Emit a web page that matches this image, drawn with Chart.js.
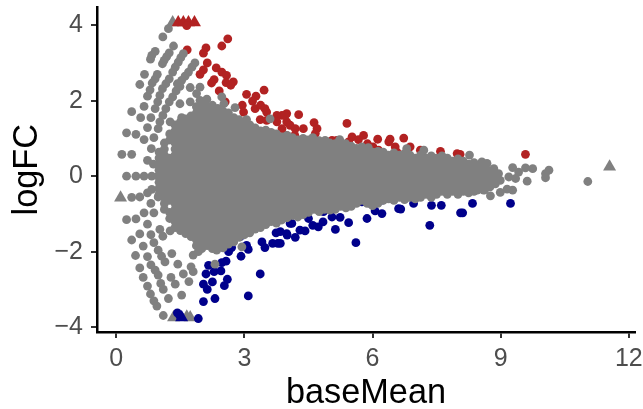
<!DOCTYPE html>
<html><head><meta charset="utf-8">
<style>html,body{margin:0;padding:0;background:#fff}canvas{display:block}</style>
<script src="https://cdn.jsdelivr.net/npm/chart.js@4"></script>
</head><body><canvas id="c" width="643" height="409"></canvas>
<script>
const xTicks=[0,3,6,9,12];
const yTicks=[-4,-2,0,2,4];
const grayTriangles=[[.1,-.57],[1.34,-3.74],[1.65,-3.72],[1.73,-3.74],[1.32,4.07],[11.55,.25]];
const redTriangles=[[1.45,4.07],[1.57,4.07],[1.69,4.07],[1.83,4.07]];
const blueTriangles=[[1.53,-3.74]];
const redPoints=[[1.65,3.99],[2.61,3.64],[2.47,3.45],[2.1,3.4],[2.04,3.26],[1.66,3.35],[2.13,3],[2.34,2.87],[2.47,2.76],[2.58,2.67],[2.04,2.82],[1.96,2.7],[2.29,2.56],[2.23,2.47],[2.74,2.5],[2.57,2.48],[2.68,2.41],[2.41,2.26],[3.46,2.28],[3.05,2.17],[3.27,2.12],[3.19,1.99],[2.55,1.97],[2.95,1.88],[3.25,1.79],[3.38,1.88],[3.48,1.79],[3.52,1.7],[2.98,1.7],[2.76,1.48],[3.37,1.5],[3.76,1.61],[3.88,1.61],[3.99,1.66],[3.76,1.44],[3.99,1.44],[3.88,1.26],[3.52,1.48],[4.27,1.63],[3.95,1.61],[4.63,1.42],[5.4,1.4],[4.7,1.26],[6.73,1.01],[4.07,1.35],[4.19,1.26],[4.38,1.26],[4.66,1.13],[5.52,1.04],[5.79,1.08],[5.67,.97],[6.12,.98],[6.41,.98],[6.38,.91],[5.05,.95],[5.16,.95],[4.93,.82],[5.05,.82],[5.44,.91],[5.88,.86],[6.01,.78],[6.14,.69],[6.53,.78],[6.57,.64],[6.76,.6],[6.88,.78],[7.12,.69],[7.59,.66],[3.98,1.08],[4.18,1.08],[7.98,.6],[8.05,.58],[9.58,.58]];
const bluePoints=[[1.43,-3.62],[1.49,-3.7],[1.92,-3.77],[2.04,-3.32],[2.31,-3.24],[3.09,-3.17],[3.37,-2.59],[2.13,-3],[2.04,-2.86],[2.25,-2.8],[2.53,-2.9],[2.6,-2.73],[2.1,-2.59],[2.29,-2.53],[2.45,-2.51],[2.16,-2.36],[2.57,-2.25],[2.47,-2.29],[2.92,-2.12],[2.63,-2],[2.7,-1.89],[3.09,-1.94],[3.05,-1.83],[3.48,-1.89],[3.41,-1.74],[3.66,-1.78],[3.78,-1.78],[3.74,-1.5],[3.84,-1.47],[3.99,-1.52],[4.07,-1.25],[2.9,-1.6],[5.61,-1.76],[5.13,-1.41],[3.84,-1.78],[4.19,-1.62],[4,-1.56],[4.42,-1.45],[4.11,-1.25],[4.73,-1.34],[4.84,-1.21],[5.05,-1.08],[5.44,-1.23],[5.24,-1.09],[5.87,-1.12],[7.34,-1.3],[6.22,-.99],[6.06,-.92],[6.24,-.63],[6.61,-.86],[6.66,-.87],[5.75,-.68],[5.95,-.72],[6.96,-.72],[7.38,-.77],[7.61,-.77],[8.06,-.97],[4.3,-1.43],[4.5,-1.12],[4.85,-.94],[4.6,-1.3],[8.34,-.72],[8.11,-.97],[9.23,-.72]];
const grayPoints=[[1.22,3.91],[1.09,3.69],[1.34,3.45],[.91,3.31],[.83,3.2],[.8,3.1],[1.24,3.27],[1.18,3.17],[1.12,3.07],[1.08,2.98],[1.57,3.25],[1.51,3.14],[1.45,3.02],[1.38,2.89],[1.32,2.76],[1.84,3],[1.77,2.89],[1.69,2.76],[1.61,2.65],[1.53,2.54],[1.43,2.45],[.66,2.7],[.55,2.43],[.96,2.7],[.91,2.58],[.84,2.47],[.79,2.29],[.73,2.12],[1.24,2.58],[1.16,2.45],[1.08,2.32],[1.02,2.14],[.97,1.97],[.91,1.79],[1.49,2.38],[1.4,2.26],[1.32,2.1],[1.24,1.97],[1.16,1.79],[1.09,1.61],[1.02,1.44],[.98,1.26],[.65,1.85],[.36,1.71],[.57,1.55],[.81,1.55],[.73,1.29],[.24,1.15],[.46,1.11],[.65,.97],[.88,1.02],[.82,.73],[.13,.58],[.36,.58],[.73,.42],[.87,.32],[1.96,2.36],[1.88,2.19],[1.73,2.35],[1.73,1.97],[1.49,1.92],[2.47,2.1],[2.12,2.04],[1.96,2.01],[2.78,1.82],[1.26,1.44],[1.53,1.55],[3.6,1.52],
[.24,0],[.46,0],[.65,0],[.83,0],[.98,0],[.36,-.56],[.55,-.55],[.73,-.44],[.83,-.35],[.98,-.55],[.81,-.72],[.88,-.97],[.65,-.97],[.24,-1.15],[.46,-1.13],[.73,-1.27],[.55,-1.53],[.81,-1.55],[1.02,-1.41],[1.09,-1.59],[1.26,-1.45],[.36,-1.69],[.63,-1.85],[.88,-1.76],[.45,-2.1],[.73,-2.13],[.98,-1.96],[1.06,-2.12],[1.14,-2.27],[.81,-2.35],[.91,-2.49],[.55,-2.43],[.63,-2.68],[.98,-2.62],[1.04,-2.84],[1.1,-3],[.73,-2.91],[.8,-3.12],[.88,-3.3],[.95,-3.44],[1.22,-3.24],[1.1,-3.69],[1.53,-3.15],[1.28,-2.68],[1.38,-2.86],[1.7,-2.79],[1.57,-2.59],[1.44,-2.33],[1.75,-2.4],[1.8,-2.53],[1.3,-2.05],[2.31,-2.33],[1.92,-2],[2.35,-1.96],[2.94,-1.87],[1.8,-2.09],
[11.04,-.14],[10.05,-.04],[10.05,.07],[10.13,.16],[9.62,-.13],[9.58,.22],[9.75,.2],[9.28,.23],[9.42,.11],[9.35,-.06],[9.19,-.02],[8.99,-.11],[9.28,-.37],[9.15,-.34],[8.99,-.43],[8.76,-.52],[8.27,.56],[8.56,.38],[8.68,.34],[8.84,.2],[8.95,.07],[8.6,-.37],[8.45,-.37],[7.2,.69],[6.8,.73],[4.89,.95],[5.23,.97],[2.52,1.92],[3.05,1.5],[4.6,1.02],[5.9,.76]];
const denseColumns=[
[1,-.48,-.32,-.16,0,.16,.32,.48,.64],
[1.125,-.88,-.72,-.56,-.4,-.24,-.08,.08,.24,.4,.56,.72,.88],
[1.25,-1.12,-.96,-.64,-.48,-.32,-.16,0,.16,.32,.48,.96,1.12],
[1.375,-1.36,-1.2,-1.04,-.88,-.72,-.56,-.4,-.24,-.08,.08,.24,.4,.56,.72,.88,1.04,1.2,1.36],
[1.5,-1.44,-1.28,-1.12,-.96,-.8,-.64,-.48,-.32,-.16,0,.16,.32,.48,.64,.8,.96,1.12,1.28,1.44],
[1.625,-1.52,-1.36,-1.2,-1.04,-.88,-.72,-.56,-.4,-.24,-.08,.08,.24,.4,.56,.72,.88,1.04,1.2,1.36,1.52],
[1.75,-1.6,-1.44,-1.28,-1.12,-.96,-.8,-.64,-.48,-.32,-.16,0,.16,.32,.48,.64,.8,.96,1.12,1.28,1.44,1.6],
[1.875,-1.84,-1.68,-1.52,-1.36,-1.2,-1.04,-.88,-.72,-.56,-.4,-.24,-.08,.08,.24,.4,.56,.72,.88,1.04,1.2,1.36,1.52,1.68,1.84],
[2,-1.92,-1.76,-1.6,-1.44,-1.28,-1.12,-.96,-.8,-.64,-.48,-.32,-.16,0,.16,.32,.48,.64,.8,.96,1.12,1.28,1.44,1.6,1.76,1.9],
[2.125,-1.84,-1.68,-1.52,-1.36,-1.2,-1.04,-.88,-.72,-.56,-.4,-.24,-.08,.08,.24,.4,.56,.72,.88,1.04,1.2,1.36,1.52,1.68,1.84],
[2.25,-1.92,-1.76,-1.6,-1.44,-1.28,-1.12,-.96,-.8,-.64,-.48,-.32,-.16,0,.16,.32,.48,.64,.8,.96,1.12,1.28,1.44,1.6,1.76,1.88],
[2.375,-1.84,-1.68,-1.52,-1.36,-1.2,-1.04,-.88,-.72,-.56,-.4,-.24,-.08,.08,.24,.4,.56,.72,.88,1.04,1.2,1.36,1.52,1.68,1.8],
[2.5,-1.9,-1.76,-1.6,-1.44,-1.28,-1.12,-.96,-.8,-.64,-.48,-.32,-.16,0,.16,.32,.48,.64,.8,.96,1.12,1.28,1.44,1.6,1.72],
[2.625,-1.8,-1.68,-1.52,-1.36,-1.2,-1.04,-.88,-.72,-.56,-.4,-.24,-.08,.08,.24,.4,.56,.72,.88,1.04,1.2,1.36,1.52,1.68],
[2.75,-1.74,-1.6,-1.44,-1.28,-1.12,-.96,-.8,-.64,-.48,-.32,-.16,0,.16,.32,.48,.64,.8,.96,1.12,1.28,1.44,1.55],
[2.875,-1.62,-1.52,-1.36,-1.2,-1.04,-.88,-.72,-.56,-.4,-.24,-.08,.08,.24,.4,.56,.72,.88,1.04,1.2,1.36,1.5],
[3,-1.55,-1.44,-1.28,-1.12,-.96,-.8,-.64,-.48,-.32,-.16,0,.16,.32,.48,.64,.8,.96,1.12,1.28,1.4],
[3.125,-1.5,-1.36,-1.2,-1.04,-.88,-.72,-.56,-.4,-.24,-.08,.08,.24,.4,.56,.72,.88,1.04,1.2,1.36],
[3.25,-1.4,-1.28,-1.12,-.96,-.8,-.64,-.48,-.32,-.16,0,.16,.32,.48,.64,.8,.96,1.12,1.28],
[3.375,-1.36,-1.2,-1.04,-.88,-.72,-.56,-.4,-.24,-.08,.08,.24,.4,.56,.72,.88,1.04,1.2],
[3.5,-1.28,-1.12,-.96,-.8,-.64,-.48,-.32,-.16,0,.16,.32,.48,.64,.8,.96,1.12,1.22],
[3.625,-1.2,-1.04,-.88,-.72,-.56,-.4,-.24,-.08,.08,.24,.4,.56,.72,.88,1.04,1.16],
[3.75,-1.24,-1.12,-.96,-.8,-.64,-.48,-.32,-.16,0,.16,.32,.48,.64,.8,.96,1.12],
[3.875,-1.16,-1.04,-.88,-.72,-.56,-.4,-.24,-.08,.08,.24,.4,.56,.72,.88,1.04],
[4,-1.1,-.96,-.8,-.64,-.48,-.32,-.16,0,.16,.32,.48,.64,.8,.96,1.08],
[4.125,-1.04,-.88,-.72,-.56,-.4,-.24,-.08,.08,.24,.4,.56,.72,.88,1.02],
[4.25,-1.08,-.96,-.8,-.64,-.48,-.32,-.16,0,.16,.32,.48,.64,.8,.96],
[4.375,-1.02,-.88,-.72,-.56,-.4,-.24,-.08,.08,.24,.4,.56,.72,.88,1],
[4.5,-.96,-.8,-.64,-.48,-.32,-.16,0,.16,.32,.48,.64,.8,.96],
[4.625,-.88,-.72,-.56,-.4,-.24,-.08,.08,.24,.4,.56,.72,.88],
[4.75,-.94,-.8,-.64,-.48,-.32,-.16,0,.16,.32,.48,.64,.8,.94],
[4.875,-.88,-.72,-.56,-.4,-.24,-.08,.08,.24,.4,.56,.72,.88],
[5,-.9,-.8,-.64,-.48,-.32,-.16,0,.16,.32,.48,.64,.8,.88],
[5.125,-.88,-.72,-.56,-.4,-.24,-.08,.08,.24,.4,.56,.72,.86],
[5.25,-.8,-.64,-.48,-.32,-.16,0,.16,.32,.48,.64,.8],
[5.375,-.84,-.72,-.56,-.4,-.24,-.08,.08,.24,.4,.56,.72,.86],
[5.5,-.8,-.64,-.48,-.32,-.16,0,.16,.32,.48,.64,.8],
[5.625,-.72,-.56,-.4,-.24,-.08,.08,.24,.4,.56,.74],
[5.75,-.64,-.48,-.32,-.16,0,.16,.32,.48,.64,.78],
[5.875,-.72,-.56,-.4,-.24,-.08,.08,.24,.4,.56,.72],
[6,-.78,-.64,-.48,-.32,-.16,0,.16,.32,.48,.64],
[6.125,-.72,-.56,-.4,-.24,-.08,.08,.24,.4,.56,.66],
[6.25,-.64,-.48,-.32,-.16,0,.16,.32,.48,.64],
[6.375,-.6,-.4,-.24,-.08,.08,.24,.4,.56],
[6.5,-.64,-.48,-.32,-.16,0,.16,.32,.48,.62],
[6.625,-.56,-.4,-.24,-.08,.08,.24,.4,.56],
[6.75,-.62,-.48,-.32,-.16,0,.16,.32,.48,.6],
[6.875,-.56,-.4,-.24,-.08,.08,.24,.4,.56],
[7,-.6,-.48,-.32,-.16,0,.16,.32,.48],
[7.125,-.56,-.4,-.24,-.08,.08,.24,.4,.56],
[7.25,-.48,-.32,-.16,0,.16,.32,.48],
[7.375,-.56,-.4,-.24,-.08,.08,.24,.4,.54],
[7.5,-.48,-.32,-.16,0,.16,.32,.48],
[7.625,-.4,-.24,-.08,.08,.24,.4,.54],
[7.75,-.48,-.32,-.16,0,.16,.32,.48],
[7.875,-.4,-.24,-.08,.08,.24,.4],
[8,-.48,-.32,-.16,0,.16,.32,.46],
[8.125,-.4,-.24,-.08,.08,.24,.4],
[8.25,-.44,-.32,-.16,0,.16,.32],
[8.375,-.4,-.24,-.08,.08,.24,.36],
[8.5,-.32,-.16,0,.16,.3],
[8.625,-.36,-.24,-.08,.08,.24],
[8.75,-.28,-.16,0,.14],
[8.875,-.2,-.08,.06]];

const toXY=a=>a.map(p=>({x:p[0],y:p[1]}));
const denseXY=[];
denseColumns.forEach(c=>c.slice(1).forEach(y=>denseXY.push({x:c[0],y})));
const GRAY='#808080',RED='#b22222',BLUE='#00008b';
const ds=(data,color,style,r)=>({data,backgroundColor:color,borderColor:color,borderWidth:0,pointStyle:style,pointRadius:r,pointHoverRadius:r,clip:false});
const minus=v=>String(v).replace('-','\u2212');
new Chart(document.getElementById('c'),{
 type:'scatter',
 data:{datasets:[
  ds(denseXY,GRAY,'circle',4.4),
  ds(toXY(grayPoints),GRAY,'circle',4.4),
  ds(toXY(redPoints),RED,'circle',4.4),
  ds(toXY(bluePoints),BLUE,'circle',4.4),
  ds(toXY(redTriangles),RED,'triangle',7.5),
  ds(toXY(blueTriangles),BLUE,'triangle',7.5),
  ds(toXY(grayTriangles),GRAY,'triangle',7.5)
 ]},
 options:{
  responsive:false,animation:false,devicePixelRatio:1,
  layout:{padding:{top:7,right:8,left:0,bottom:0}},
  plugins:{legend:{display:false},tooltip:{enabled:false}},
  scales:{
   x:{type:'linear',min:-.452,max:12.145,
    afterBuildTicks:s=>{s.ticks=xTicks.map(value=>({value}))},
    afterFit:s=>{s.height=77;s.paddingLeft=0;s.paddingRight=0},
    border:{color:'#000',width:2.5},
    grid:{drawOnChartArea:false,drawTicks:true,tickLength:6,tickColor:'#333',lineWidth:2,tickWidth:2},
    ticks:{color:'#4d4d4d',font:{family:'"Liberation Sans"',size:25},padding:6,maxRotation:0,autoSkip:false,callback:v=>minus(v)},
    title:{display:true,text:'baseMean',color:'#000',font:{family:'"Liberation Sans"',size:34.3},padding:{top:0,bottom:-5}}
   },
   y:{type:'linear',min:-4.127,max:4.47,
    afterBuildTicks:s=>{s.ticks=yTicks.map(value=>({value}))},
    afterFit:s=>{s.width=97;s.paddingTop=0;s.paddingBottom=0},
    border:{color:'#000',width:2.5},
    grid:{drawOnChartArea:false,drawTicks:true,tickLength:6,tickColor:'#333',lineWidth:2,tickWidth:2},
    ticks:{color:'#4d4d4d',font:{family:'"Liberation Sans"',size:25},padding:8,autoSkip:false,callback:v=>minus(v)},
    title:{display:true,text:'logFC',color:'#000',font:{family:'"Liberation Sans"',size:34.3},padding:{top:7,bottom:0}}
   }
  }
 }
});
</script></body></html>
